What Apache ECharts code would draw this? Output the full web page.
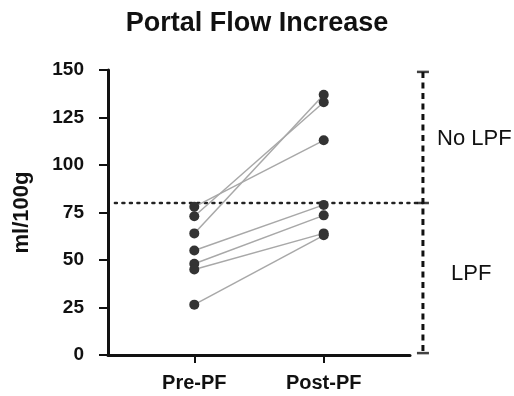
<!DOCTYPE html>
<html>
<head>
<meta charset="utf-8">
<script src="https://cdn.jsdelivr.net/npm/echarts@6/dist/echarts.min.js"></script>
<style>html,body{margin:0;padding:0;background:#fff}#c{width:514px;height:396px}</style>
</head>
<body>
<div id="c"></div>
<script>
// Data
var categories = ['Pre-PF', 'Post-PF'];
var categoryX = [1, 2.5];
var preValues  = [78, 73, 64, 55, 48, 45, 26.5];
var postValues = [113, 133, 137, 79, 73.5, 64, 63];
var yTicks = [0, 25, 50, 75, 100, 125, 150];
var threshold = 80;
var bracketValues = [149, 80, 1];
var bracketX = 3.65;

var chart = echarts.init(document.getElementById('c'), null, {renderer: 'canvas'});

var pairSeries = preValues.map(function (v, i) {
  return {
    type: 'line',
    data: [[categoryX[0], v], [categoryX[1], postValues[i]]],
    symbol: 'circle',
    symbolSize: 10,
    itemStyle: {color: '#333333'},
    lineStyle: {color: '#a8a8a8', width: 1.5},
    z: 5,
    silent: true,
    animation: false
  };
});

var font = 'Liberation Sans, Arial, sans-serif';

var option = {
  animation: false,
  title: {
    text: 'Portal Flow Increase',
    left: 'center',
    top: 5,
    textStyle: {fontFamily: font, fontWeight: 'bold', fontSize: 27, color: '#111'}
  },
  grid: [
    {left: 108, right: 104, top: 70, bottom: 41},
    {left: 108, right: 0, top: 70, bottom: 41}
  ],
  xAxis: [{
    type: 'value',
    gridIndex: 0,
    min: 0, max: 3.5, interval: 0.5,
    splitLine: {show: false},
    axisLine: {show: true, lineStyle: {color: '#111', width: 3}},
    axisTick: {show: true, length: 8, lineStyle: {color: '#111', width: 2}, customValues: categoryX},
    axisLabel: {
      customValues: categoryX,
      margin: 18,
      fontFamily: font, fontWeight: 'bold', fontSize: 20, color: '#111',
      formatter: function (v) {
        var i = categoryX.indexOf(v);
        return i >= 0 ? categories[i] : '';
      }
    }
  }, {
    type: 'value',
    gridIndex: 1,
    min: 0, max: 3.5 * 406 / 302,
    show: false,
    splitLine: {show: false}
  }],
  yAxis: [{
    type: 'value',
    gridIndex: 0,
    min: 0, max: 150, interval: 25,
    name: 'ml/100g',
    nameLocation: 'middle',
    nameGap: 75,
    nameTextStyle: {fontFamily: font, fontWeight: 'bold', fontSize: 22, color: '#111'},
    splitLine: {show: false},
    axisLine: {show: true, lineStyle: {color: '#111', width: 3}},
    axisTick: {show: true, length: 9, lineStyle: {color: '#111', width: 2}},
    axisLabel: {margin: 24, fontFamily: font, fontWeight: 'bold', fontSize: 19, color: '#111',
      formatter: function (v) { return yTicks.indexOf(v) >= 0 ? String(v) : ''; }}
  }, {
    type: 'value',
    gridIndex: 1,
    min: 0, max: 150,
    show: false,
    splitLine: {show: false}
  }],
  graphic: [
    {type: 'text', left: 437, top: 128, style: {text: 'No LPF', fontFamily: font, fontSize: 22, fill: '#111'}},
    {type: 'text', left: 451, top: 263, style: {text: 'LPF', fontFamily: font, fontSize: 22, fill: '#111'}}
  ],
  series: pairSeries.concat([
    {
      type: 'line',
      xAxisIndex: 1, yAxisIndex: 1,
      data: [[0.08, threshold], [bracketX, threshold]],
      symbol: 'none',
      lineStyle: {color: '#222', width: 2.5, type: [2, 5.5], cap: 'round'},
      z: 3, silent: true
    },
    {
      type: 'line',
      xAxisIndex: 1, yAxisIndex: 1,
      data: [[bracketX, bracketValues[0]], [bracketX, bracketValues[2]]],
      symbol: 'none',
      lineStyle: {color: '#111', width: 3, type: [6, 4.5]},
      z: 3, silent: true
    },
    {
      type: 'scatter',
      xAxisIndex: 1, yAxisIndex: 1,
      data: bracketValues.map(function (v) { return [bracketX, v]; }),
      symbol: 'rect',
      symbolSize: [12, 2.5],
      itemStyle: {color: '#111'},
      z: 4, silent: true
    }
  ])
};
chart.setOption(option);
</script>
</body>
</html>
